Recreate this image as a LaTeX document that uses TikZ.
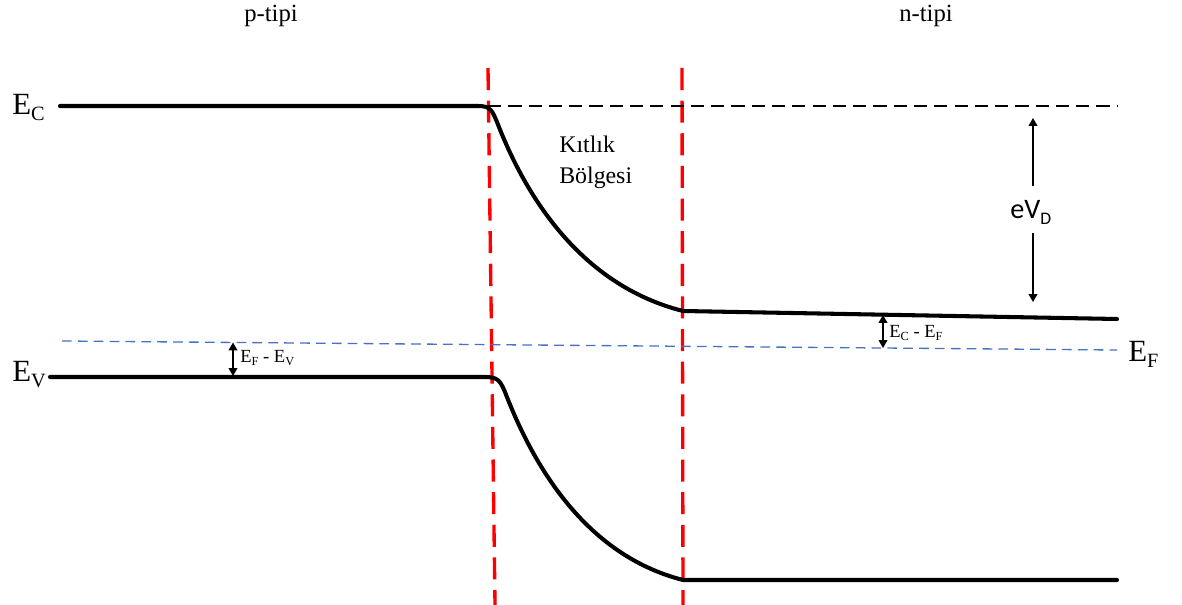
\documentclass[tikz,border=0pt]{standalone}
\usepackage{fontspec}
\setmainfont{Liberation Serif}
\newfontfamily\calib{Carlito}
\usetikzlibrary{arrows.meta}
\definecolor{fermiblue}{RGB}{68,114,196}
\newcommand{\subsc}[3]{\raisebox{-#3}{\fontsize{#2}{#2}\selectfont #1}}
\begin{document}
\begin{tikzpicture}[x=0.567pt,y=-0.567pt,
  band/.style={line width=2.3pt, line cap=round, line join=round},
  junction/.style={red, line width=1.9pt, dash pattern=on 12.5pt off 6pt},
  refline/.style={black, line width=0.9pt, dash pattern=on 7.5pt off 4pt},
  fermi/.style={fermiblue, line width=0.75pt, dash pattern=on 5.5pt off 3.5pt},
  gaparrow/.style={line width=0.7pt, {Triangle[length=4.5pt,width=5pt]}-{Triangle[length=4.5pt,width=5pt]}},
  onearrow/.style={line width=0.7pt, -{Triangle[length=4.5pt,width=5pt]}},
  lbl/.style={inner sep=0pt, anchor=base west},
  toplbl/.style={inner sep=0pt, anchor=base, font=\rmfamily\fontsize{14}{16}\selectfont},
]
\useasboundingbox (0,0) rectangle (1182,605);

% coordinates
\coordinate (ecL) at (60,106);
\coordinate (ecK) at (478,106);
\coordinate (ecB) at (497,122);
\coordinate (ecJ) at (683,311);
\coordinate (ecR) at (1117,319);
\coordinate (evL) at (50,377);
\coordinate (evK) at (485,377);
\coordinate (evB) at (505,392);
\coordinate (evJ) at (683,580);
\coordinate (evR) at (1117,580);
\coordinate (rlT) at (488,68);
\coordinate (rlB) at (495,605);
\coordinate (rrT) at (682,68);
\coordinate (rrB) at (683,605);
\coordinate (refL) at (488,106);
\coordinate (refR) at (1117,106);
\coordinate (efL) at (62,341);
\coordinate (efR) at (1117,350);

% red junction boundaries
\draw[junction] (rlT) -- (rlB);
\draw[junction] (rrT) -- (rrB);

% reference and Fermi levels
\draw[refline] (refL) -- (refR);
\draw[fermi] (efL) -- (efR);

% bands
\draw[band] (ecL) -- (ecK) .. controls (490,106) and (492,110) .. (ecB)
  .. controls (525,195) and (580,285) .. (ecJ) -- (ecR);
\draw[band] (evL) -- (evK) .. controls (497,377) and (500,380) .. (evB)
  .. controls (533,465) and (585,555) .. (evJ) -- (evR);

% arrows
\coordinate (a1T) at (233,342.5);
\coordinate (a1B) at (233,376);
\draw[gaparrow] (a1T) -- (a1B);
\coordinate (a2T) at (883,315);
\coordinate (a2B) at (883,348);
\draw[gaparrow] (a2T) -- (a2B);
\coordinate (a3S) at (1033,186);
\coordinate (a3E) at (1033,118);
\draw[onearrow] (a3S) -- (a3E);
\coordinate (a4S) at (1033,233);
\coordinate (a4E) at (1033,302);
\draw[onearrow] (a4S) -- (a4E);

% labels
\node[toplbl] (ptype) at (271,22) {p-tipi};
\node[toplbl] (ntype) at (926,22) {n-tipi};
\node[lbl] (ec) at (12,115) {\fontsize{17.5}{18}\selectfont E\subsc{C}{11.5}{3.2pt}};
\node[lbl] (ev) at (12,382) {\fontsize{17.5}{18}\selectfont E\subsc{V}{11.5}{3.2pt}};
\node[lbl] (ef) at (1128,362) {\fontsize{17.5}{18}\selectfont E\subsc{F}{11.5}{3.2pt}};
\node[lbl] (efev) at (240,363) {\fontsize{10.5}{12}\selectfont E\subsc{F}{7}{1.5pt} - E\subsc{V}{7}{1.5pt}};
\node[lbl] (ecef) at (889,338) {\fontsize{10.5}{12}\selectfont E\subsc{C}{7}{1.5pt} - E\subsc{F}{7}{1.5pt}};
\node[lbl, align=left, font=\rmfamily\fontsize{13.5}{17.6}\selectfont] (depl) at (559,184) {Kıtlık\\Bölgesi};
\node[lbl] (evd) at (1010,219) {\calib\fontsize{16}{18}\selectfont eV\subsc{D}{10}{3pt}};
\end{tikzpicture}
\end{document}
